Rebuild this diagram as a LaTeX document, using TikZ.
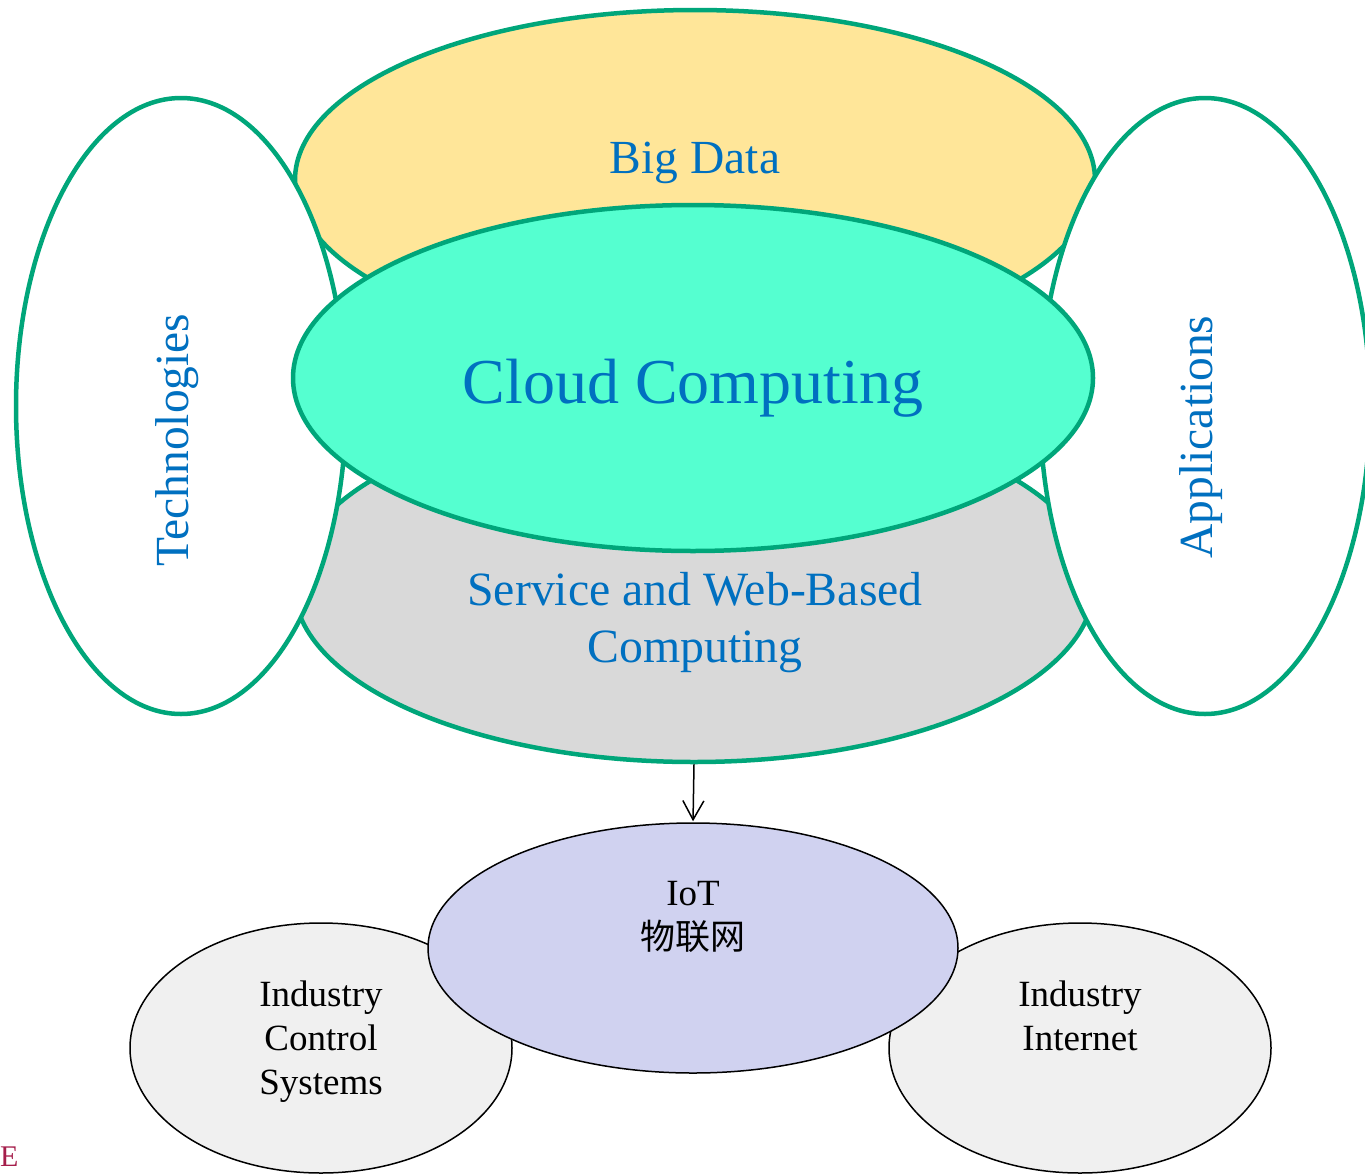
\documentclass[tikz,border=0pt]{standalone}
\usepackage{fontspec}
\setmainfont{Liberation Serif}
\newfontfamily\cjk{Noto Sans CJK SC}
\usetikzlibrary{shapes.geometric,arrows.meta}

\definecolor{ringgreen}{RGB}{0,166,122}
\definecolor{bigyellow}{RGB}{255,230,153}
\definecolor{cloudcyan}{RGB}{85,255,208}
\definecolor{servgray}{RGB}{217,217,217}
\definecolor{labelblue}{RGB}{0,112,192}
\definecolor{iotlav}{RGB}{208,210,240}
\definecolor{sidegray}{RGB}{240,240,240}
\definecolor{markred}{RGB}{165,30,75}

\tikzset{
  ring/.style={ellipse, draw=ringgreen, line width=4.5pt, inner sep=0pt},
  thinring/.style={ellipse, draw=black, line width=1.5pt, inner sep=0pt},
  bluetext/.style={text=labelblue, inner sep=0pt},
  blacktext/.style={text=black, inner sep=0pt, align=center, font=\fontsize{37}{44.5}\selectfont},
}

\begin{document}
\begin{tikzpicture}[x=1pt, y=-1pt]
\useasboundingbox (0,0) rectangle (1365,1175);

% upper and lower layers
\node[ring, fill=bigyellow, minimum width=800pt, minimum height=340pt] (bigdata) at (695,180) {};
\node[ring, fill=servgray, minimum width=800pt, minimum height=354pt] (service) at (694,585) {};

% side ellipses
\node[ring, fill=white, minimum width=330pt, minimum height=616pt] (tech) at (181,406) {};
\node[ring, fill=white, minimum width=330pt, minimum height=616pt] (apps) at (1205,406) {};

% central ellipse
\node[ring, fill=cloudcyan, minimum width=800pt, minimum height=346pt] (cloud) at (693,378) {};

% labels of the upper group
\node[bluetext, anchor=base, font=\fontsize{47.5}{47.5}\selectfont] (bigdatatext) at (695,173) {Big Data};
\node[bluetext, anchor=base, font=\fontsize{64}{64}\selectfont] (cloudtext) at (693,403) {Cloud Computing};
\node[bluetext, anchor=base, font=\fontsize{47.8}{47.8}\selectfont] (servtext1) at (695,605) {Service and Web-Based};
\node[bluetext, anchor=base, font=\fontsize{47.8}{47.8}\selectfont] (servtext2) at (695,662) {Computing};
\node[bluetext, anchor=base, rotate=90, font=\fontsize{47.5}{47.5}\selectfont] (techtext) at (188,440) {Technologies};
\node[bluetext, anchor=base, rotate=90, font=\fontsize{47.5}{47.5}\selectfont] (appstext) at (1212,437) {Applications};

% lower group
\node[thinring, fill=sidegray, minimum width=382pt, minimum height=250pt] (ics) at (321,1048) {};
\node[thinring, fill=sidegray, minimum width=382pt, minimum height=250pt] (ii) at (1080,1048) {};
\node[thinring, fill=iotlav, minimum width=530pt, minimum height=250pt] (iot) at (693,948) {};

\node[blacktext, anchor=base] (iottext) at (693,905) {IoT};
\node[blacktext, anchor=base] (iotcjk) at (693,949) {\cjk\fontsize{35}{35}\selectfont 物联网};
\node[blacktext, anchor=base] (icstext1) at (321,1006) {Industry};
\node[blacktext, anchor=base] (icstext2) at (321,1050) {Control};
\node[blacktext, anchor=base] (icstext3) at (321,1094) {Systems};
\node[blacktext, anchor=base] (iitext1) at (1080,1006) {Industry};
\node[blacktext, anchor=base] (iitext2) at (1080,1050) {Internet};

\draw[line width=1.5pt, -{Straight Barb[length=19pt,width=21pt,line width=1.5pt]}, shorten >=1pt]
  (service.south) -- (iot.north);

% corner mark
\node[text=markred, anchor=base west, inner sep=0pt, font=\fontsize{30}{30}\selectfont] (mark) at (0,1166) {E};
\end{tikzpicture}
\end{document}
